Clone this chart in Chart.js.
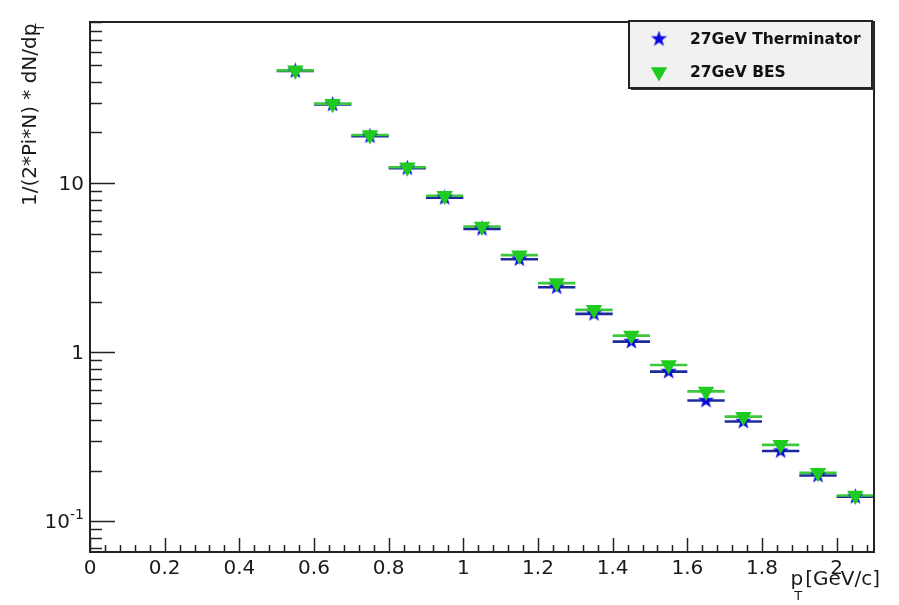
<!DOCTYPE html>
<html>
<head>
<meta charset="utf-8">
<script src="https://cdn.jsdelivr.net/npm/chart.js@4.4.1/dist/chart.umd.min.js"></script>
<style>
  html, body { margin: 0; padding: 0; background: #fff; }
  #wrap { width: 899px; height: 605px; }
</style>
</head>
<body>
<div id="wrap"><canvas id="spectra" width="899" height="605"></canvas></div>
<script>
// pT bin centres and half width (GeV/c)
const ptBins = [0.55, 0.65, 0.75, 0.85, 0.95, 1.05, 1.15, 1.25, 1.35, 1.45, 1.55, 1.65, 1.75, 1.85, 1.95, 2.05];
const ptHalfWidth = 0.05;

// 1/(2*Pi*N) * dN/dpT
const thermValues = [46.2, 29.3, 19.0, 12.3, 8.21, 5.38, 3.56, 2.43, 1.69, 1.159, 0.770, 0.519, 0.390, 0.261, 0.187, 0.140];
const besValues   = [46.6, 29.6, 19.3, 12.45, 8.44, 5.55, 3.76, 2.57, 1.785, 1.257, 0.843, 0.588, 0.417, 0.284, 0.194, 0.1426];

const seriesNames = ["27GeV Therminator", "27GeV BES"];

const xTickValues = [0, 0.2, 0.4, 0.6, 0.8, 1, 1.2, 1.4, 1.6, 1.8, 2];
const xTickLabels = ["0", "0.2", "0.4", "0.6", "0.8", "1", "1.2", "1.4", "1.6", "1.8", "2"];
const yTickValues = [0.1, 1, 10];
const yTickLabels = ["10^-1", "1", "10"];

const xRange = [0, 2.1];
const yRange = [0.066, 90];

const BLUE = "#0a0ae0";
const BLUE_LINE = "#1c2a9c";
const GREEN = "#1ecb1e";
const GREEN_LINE = "#3cc83c";

// filled five point star marker
function makeStar(size, color) {
  const c = document.createElement("canvas");
  c.width = size; c.height = size;
  const g = c.getContext("2d");
  const cx = size / 2, cy = size / 2, ro = size / 2, ri = size * 0.2;
  g.beginPath();
  for (let i = 0; i < 10; i++) {
    const r = i % 2 ? ri : ro;
    const a = -Math.PI / 2 + i * Math.PI / 5;
    g.lineTo(cx + r * Math.cos(a), cy + r * Math.sin(a));
  }
  g.closePath();
  g.fillStyle = color;
  g.fill();
  return c;
}
const starImg = makeStar(17, BLUE);

const toPoints = (vals) => ptBins.map((x, i) => ({ x: x, y: vals[i] }));

// horizontal bin-width bars, drawn under the markers
const errorBars = {
  id: "errorBars",
  beforeDatasetsDraw(chart) {
    const ctx = chart.ctx;
    const xs = chart.scales.x, ys = chart.scales.y;
    ctx.save();
    chart.data.datasets.forEach((ds) => {
      ctx.strokeStyle = ds.barColor;
      ctx.lineWidth = 2.6;
      ds.data.forEach((p) => {
        const y = ys.getPixelForValue(p.y);
        ctx.beginPath();
        ctx.moveTo(xs.getPixelForValue(p.x - ptHalfWidth), y);
        ctx.lineTo(xs.getPixelForValue(p.x + ptHalfWidth), y);
        ctx.stroke();
      });
    });
    ctx.restore();
  }
};

// ROOT style frame, inward ticks, labels, titles and legend
const rootFrame = {
  id: "rootFrame",
  afterDraw(chart) {
    const ctx = chart.ctx;
    const a = chart.chartArea;
    const xs = chart.scales.x, ys = chart.scales.y;
    ctx.save();
    ctx.strokeStyle = "#222";
    ctx.fillStyle = "#222";

    // x ticks: major every 0.2, minor every 0.04
    ctx.lineWidth = 1.5;
    for (let k = 0; k <= 52; k++) {
      const v = k * 0.04;
      if (v > xRange[1] + 1e-9) break;
      const px = Math.round(xs.getPixelForValue(v)) + 0.5;
      const len = k % 5 === 0 ? 14 : 7;
      ctx.beginPath();
      ctx.moveTo(px, a.bottom);
      ctx.lineTo(px, a.bottom - len);
      ctx.stroke();
    }
    // y ticks: decades long, 2..9 short
    for (let e = -2; e <= 2; e++) {
      for (let m = 1; m <= 9; m++) {
        const v = m * Math.pow(10, e);
        if (v < yRange[0] || v > yRange[1]) continue;
        const py = Math.round(ys.getPixelForValue(v)) + 0.5;
        const len = m === 1 ? 25 : 12;
        ctx.beginPath();
        ctx.moveTo(a.left, py);
        ctx.lineTo(a.left + len, py);
        ctx.stroke();
      }
    }

    // frame
    ctx.lineWidth = 2;
    ctx.strokeRect(a.left, a.top, a.right - a.left, a.bottom - a.top);

    // tick labels
    ctx.fillStyle = "#1a1a1a";
    ctx.font = "20px 'DejaVu Sans'";
    ctx.textAlign = "center";
    ctx.textBaseline = "top";
    xTickValues.forEach((v, i) => {
      ctx.fillText(xTickLabels[i], xs.getPixelForValue(v), a.bottom + 7);
    });
    ctx.textBaseline = "middle";
    yTickValues.forEach((v, i) => {
      const py = ys.getPixelForValue(v);
      const parts = yTickLabels[i].split("^");
      let right = a.left - 6;
      ctx.textAlign = "right";
      if (parts.length > 1) {
        ctx.font = "14px 'DejaVu Sans'";
        ctx.fillText(parts[1], right, py - 6);
        right -= ctx.measureText(parts[1]).width;
        ctx.font = "20px 'DejaVu Sans'";
      }
      ctx.fillText(parts[0], right, py + 1);
    });

    // x title: p_T[GeV/c]
    ctx.font = "20px 'DejaVu Sans'";
    ctx.textAlign = "right";
    ctx.fillText("[GeV/c]", 880, 580);
    const unitW = ctx.measureText("[GeV/c]").width;
    ctx.fillText("p", 878 - unitW, 580);
    ctx.font = "13px 'DejaVu Sans'";
    ctx.textAlign = "center";
    ctx.fillText("T", 878 - unitW - 5, 597);

    // y title, rotated
    ctx.save();
    ctx.translate(31, 206);
    ctx.rotate(-Math.PI / 2);
    ctx.font = "20px 'DejaVu Sans'";
    ctx.textAlign = "left";
    const yTitle = "1/(2*Pi*N) * dN/dp";
    ctx.fillText(yTitle, 0, 0);
    const tw = ctx.measureText(yTitle).width;
    ctx.font = "13px 'DejaVu Sans'";
    ctx.textAlign = "center";
    ctx.fillText("T", tw - 4, 10);
    ctx.restore();

    // legend box
    const lx = 629, ly = 21, lw = 243, lh = 67;
    ctx.fillStyle = "#333";
    ctx.fillRect(lx + 2, ly + 2, lw, lh);
    ctx.fillStyle = "#f1f1f1";
    ctx.fillRect(lx, ly, lw, lh);
    ctx.lineWidth = 2;
    ctx.strokeStyle = "#222";
    ctx.strokeRect(lx, ly, lw, lh);

    ctx.font = "bold 15.5px 'DejaVu Sans'";
    ctx.textAlign = "left";
    ctx.textBaseline = "middle";
    chart.data.datasets.forEach((ds, i) => {
      const cy = ly + 18 + i * 33;
      ctx.fillStyle = ds.backgroundColor;
      Chart.helpers.drawPoint(ctx, {
        pointStyle: ds.pointStyle,
        radius: ds.pointRadius,
        rotation: ds.rotation || 0,
        borderWidth: 0
      }, 659, cy);
      ctx.fillStyle = "#111";
      ctx.fillText(ds.label, 690, cy + 1);
    });
    ctx.restore();
  }
};

new Chart(document.getElementById("spectra"), {
  type: "scatter",
  data: {
    datasets: [
      {
        label: seriesNames[0],
        data: toPoints(thermValues),
        pointStyle: starImg,
        pointRadius: 8,
        backgroundColor: BLUE,
        borderWidth: 0,
        barColor: BLUE_LINE,
        order: 2
      },
      {
        label: seriesNames[1],
        data: toPoints(besValues),
        pointStyle: "triangle",
        rotation: 180,
        pointRadius: 9.5,
        backgroundColor: GREEN,
        borderColor: GREEN,
        borderWidth: 0,
        barColor: GREEN_LINE,
        order: 1
      }
    ]
  },
  options: {
    responsive: false,
    animation: false,
    devicePixelRatio: 1,
    layout: { padding: { left: 0, right: 25, top: 22, bottom: 0 } },
    plugins: { legend: { display: false }, tooltip: { enabled: false } },
    scales: {
      x: {
        type: "linear",
        min: xRange[0],
        max: xRange[1],
        grid: { display: false },
        border: { display: false },
        ticks: { display: false },
        afterFit: (s) => { s.height = 53; }
      },
      y: {
        type: "logarithmic",
        min: yRange[0],
        max: yRange[1],
        grid: { display: false },
        border: { display: false },
        ticks: { display: false },
        afterFit: (s) => { s.width = 90; }
      }
    }
  },
  plugins: [errorBars, rootFrame]
});
</script>
</body>
</html>
